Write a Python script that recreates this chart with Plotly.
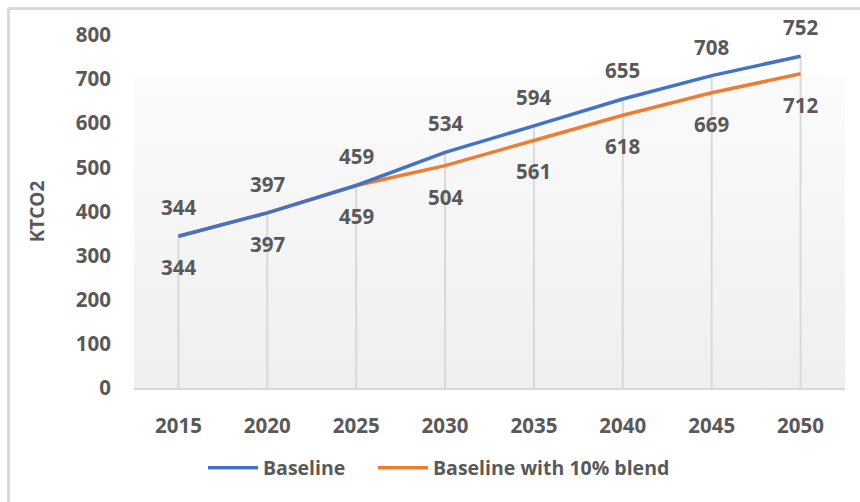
import plotly.graph_objects as go

years = ["2015", "2020", "2025", "2030", "2035", "2040", "2045", "2050"]
baseline = [344, 397, 459, 534, 594, 655, 708, 752]
blend = [344, 397, 459, 504, 561, 618, 669, 712]
y_ticks = [0, 100, 200, 300, 400, 500, 600, 700, 800]

W, H = 860, 502
ML, MR, MT, MB = 134, 15, 35, 114

BLUE = "#4472C4"
ORANGE = "#ED7D31"
TEXT = "#595959"
GRID = "#d9d9d9"
FONT = "Open Sans"
FS = 20.5

idx = list(range(len(years)))

fig = go.Figure()

# soft vertical gradient behind the series
fig.add_trace(go.Scatter(
    x=[-0.5, 7.5, 7.5, -0.5, -0.5], y=[0, 0, 705, 705, 0],
    fill="toself", mode="none", hoverinfo="skip", showlegend=False,
    fillgradient=dict(type="vertical",
                      colorscale=[[0, "#efefef"], [1, "#fbfbfb"]]),
))

# drop lines from the axis to the higher of the two series
dx, dy = [], []
for i, (a, b) in enumerate(zip(baseline, blend)):
    dx += [i, i, None]
    dy += [0, max(a, b), None]
fig.add_trace(go.Scatter(x=dx, y=dy, mode="lines",
                         line=dict(color=GRID, width=2),
                         hoverinfo="skip", showlegend=False))

fig.add_trace(go.Scatter(x=idx, y=blend, mode="lines",
                         name="Baseline with 10% blend", legend="legend2",
                         line=dict(color=ORANGE, width=3.5)))
fig.add_trace(go.Scatter(x=idx, y=baseline, mode="lines",
                         name="Baseline", legend="legend",
                         line=dict(color=BLUE, width=3.5)))

label_font = dict(size=FS, color=TEXT, family=FONT, weight="bold")
annotations = []
for i, v in enumerate(baseline):
    annotations.append(dict(x=i, y=v, text=str(v), showarrow=False,
                            yshift=29, font=label_font))
for i, v in enumerate(blend):
    annotations.append(dict(x=i, y=v, text=str(v), showarrow=False,
                            yshift=-31, font=label_font))

# chart frame (left and top edges)
PW, PH = W - ML - MR, H - MT - MB
fx = (8.5 - ML) / PW
fy = 1 + (MT - 8.5) / PH
shapes = [
    dict(type="line", xref="paper", yref="paper", x0=fx, x1=fx,
         y0=-2, y1=fy, line=dict(color=GRID, width=3)),
    dict(type="line", xref="paper", yref="paper", x0=fx, x1=2,
         y0=fy, y1=fy, line=dict(color=GRID, width=3)),
]

legend_font = dict(size=19.5, color=TEXT, family=FONT, weight="bold")
legend_y = -(468 - 388) / PH

fig.update_layout(
    width=W, height=H,
    margin=dict(l=ML, r=MR, t=MT, b=MB, autoexpand=False),
    paper_bgcolor="white", plot_bgcolor="white",
    font=dict(family=FONT, color=TEXT, size=FS, weight="bold"),
    annotations=annotations, shapes=shapes,
    legend=dict(orientation="h", x=(203 - ML) / PW, xanchor="left",
                y=legend_y, yanchor="middle", font=legend_font, itemwidth=50),
    legend2=dict(orientation="h", x=(373 - ML) / PW, xanchor="left",
                 y=legend_y, yanchor="middle", font=legend_font, itemwidth=50),
    xaxis=dict(range=[-0.5, 7.5], tickvals=idx, ticktext=years,
               showgrid=False, zeroline=False, showline=True,
               linecolor=GRID, linewidth=2, ticks="",
               ticklabelstandoff=18, automargin=False),
    yaxis=dict(range=[0, 800], tickvals=y_ticks, showgrid=False,
               zeroline=False, showline=False, ticks="",
               ticklabelstandoff=22, automargin=False,
               title=dict(text="KTCO2", standoff=26,
                          font=dict(size=19, color=TEXT, family=FONT,
                                    weight="bold"))),
)

fig.write_html("out.html")
